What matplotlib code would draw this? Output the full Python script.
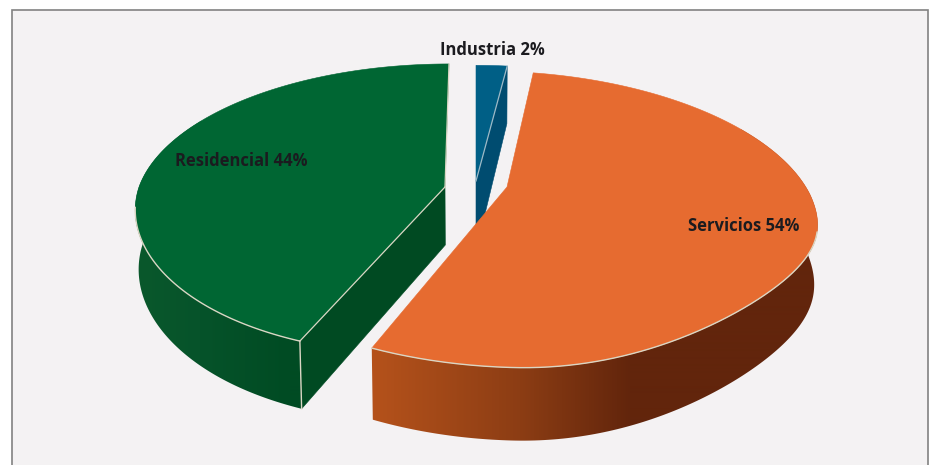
import numpy as np
import matplotlib
matplotlib.use("Agg")
import matplotlib.pyplot as plt
from matplotlib.colors import to_rgb
from matplotlib.patches import Polygon, Rectangle

# Slices clockwise from 12 o'clock
names = ["Industria", "Servicios", "Residencial"]
shares = [2, 54, 44]

BG = "#F4F2F3"
RIM = "#DAD6C4"
INK = "#1B1B1F"

MID_X = 476
APEX = {"Industria": (476, 181), "Servicios": (507, 187), "Residencial": (445, 187)}
# half width, half height, perspective, shear, back lean, front lean, flattening, depth
SHAPE = {
    "Industria": (303, 141, 0.219, 0.0, 0, 0, 0, 70),
    "Servicios": (303, 141, 0.219, 0.025, -5, -6, 15, 57),
    "Residencial": (306, 142, 0.154, 0.0, 4, 17, 0, 58),
}
TOP = {"Industria": "#005F86", "Servicios": "#E66B30", "Residencial": "#006633"}
FACE = {"Industria": "#004C70", "Residencial": "#004A22"}
WALL = {
    "Servicios": ([372, 520, 630], ["#B5521B", "#8C3D14", "#62250C"]),
    "Residencial": ([140, 200, 290], ["#0A582C", "#06532A", "#004B23"]),
}
WALL_ARC = {"Servicios": (60, 201.6), "Residencial": (201.6, 300)}
LAYER = {"Industria": 2, "Residencial": 6, "Servicios": 10}


def project(name, theta, r=1.0, lower=False):
    # theta in degrees, clockwise from the back of the disc
    a, b, persp, shear, back, front, flat, depth = SHAPE[name]
    t = np.radians(theta)
    X, Y = r * np.sin(t), r * np.cos(t)
    s = 1 / (1 + persp * Y)
    x0, y0 = APEX[name]
    x = x0 + a * X * s + back * max(Y, 0) - front * abs(min(Y, 0)) ** 3
    y = y0 - b * Y * s + shear * a * X * s - flat * (2 * max(X, 0) * max(-Y, 0)) ** 2
    if lower:
        x = MID_X + (x - MID_X) * 0.99
        y = y + depth * s
    return x, y


def wall_gradient(name):
    xs, cols = WALL[name]
    rgb = np.array([to_rgb(c) for c in cols])
    grid = np.arange(0, 933)
    strip = np.stack([np.interp(grid, xs, rgb[:, i]) for i in range(3)], axis=-1)
    return strip[np.newaxis, :, :]


fig = plt.figure(figsize=(9.33, 4.65), dpi=100, facecolor="white")
ax = fig.add_axes([0, 0, 1, 1])
ax.axis("off")
ax.add_patch(Rectangle((11.5, 10.5), 916, 470, fc=BG, ec="#828282", lw=1.2, zorder=0))

edges = np.cumsum([0] + shares) * 3.6
spans = {n: (edges[i], edges[i + 1]) for i, n in enumerate(names)}

for name in names:
    a0, a1 = spans[name]
    arc = np.linspace(a0, a1, 241)
    z = LAYER[name]

    # Curved outer wall, shaded left to right
    if name in WALL:
        w0, w1 = WALL_ARC[name]
        warc = np.linspace(w0, w1, 200)
        outline = [project(name, t) for t in warc] + [project(name, t, lower=True) for t in warc[::-1]]
        clip = Polygon(outline, transform=ax.transData, fc="none", ec="none")
        ax.add_patch(clip)
        img = ax.imshow(wall_gradient(name), extent=(0, 933, 465, 0), aspect="auto",
                        interpolation="bilinear", zorder=z)
        img.set_clip_path(clip)

    # Cut face showing at the gap
    if name in FACE:
        cut = a1 if name == "Industria" else a0
        ax.add_patch(Polygon(
            [project(name, cut, 0), project(name, cut),
             project(name, cut, lower=True), project(name, cut, 0, lower=True)],
            fc=FACE[name], ec=FACE[name], lw=0.4, zorder=z + 1))

    # Top of the slice
    rim = [project(name, t) for t in arc]
    ax.add_patch(Polygon([project(name, 0, 0)] + rim, fc=TOP[name], ec=TOP[name],
                         lw=0.4, zorder=z + 2))


# Light edges along the visible rims and cuts
def segment(a, b, color=RIM, lw=1.0):
    ax.plot([a[0], b[0]], [a[1], b[1]], color=color, lw=lw, zorder=20)


def trace(name, thetas, lw=1.0):
    pts = np.array([project(name, t) for t in thetas])
    ax.plot(pts[:, 0], pts[:, 1], color=RIM, lw=lw, solid_capstyle="round", zorder=20)


g0, g1 = spans["Residencial"]
s0, s1 = spans["Servicios"]
i0, i1 = spans["Industria"]
trace("Residencial", np.linspace(g0, 262, 100))
for cut in (g0, g1):
    segment(project("Residencial", cut, 0), project("Residencial", cut), lw=0.9)
segment(project("Residencial", g0), project("Residencial", g0, lower=True))
trace("Servicios", np.linspace(s1, 106, 200))
segment(project("Industria", i1, 0), project("Industria", i1), color="#9DB9C6", lw=0.9)

# Labels
label_at = {"Industria": (492, 50), "Servicios": (744, 226), "Residencial": (241, 161)}
for name, share in zip(names, shares):
    x, y = label_at[name]
    ax.text(x, y, f"{name} {share}%", ha="center", va="center", fontsize=12,
            weight="bold", color=INK, family="Open Sans", zorder=30)

ax.set_xlim(0, 933)
ax.set_ylim(465, 0)
fig.savefig("out.png", dpi=100, facecolor="white")
